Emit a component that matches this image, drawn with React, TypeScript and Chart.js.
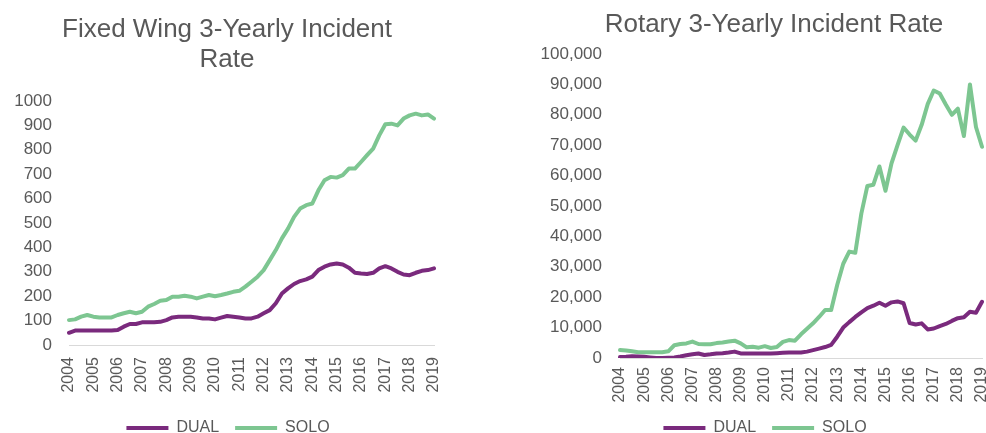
import React, { useEffect, useRef } from 'react';
import { Chart, registerables } from 'chart.js';

Chart.register(...registerables);

// ---- Data ----
const years = ['2004', '2005', '2006', '2007', '2008', '2009', '2010', '2011', '2012', '2013', '2014', '2015', '2016', '2017', '2018', '2019'];
const quarters = ['Q1', 'Q2', 'Q3', 'Q4'];
const seriesNames = ['DUAL', 'SOLO'];

// Quarterly values, 2004 Q1 .. 2019 Q1
const fixedDual = [
  50, 59, 59, 59,
  59, 59, 59, 59,
  61, 75, 86, 86,
  93, 93, 93, 95,
  102, 113, 116, 116,
  116, 113, 109, 109,
  105, 112, 119, 116,
  113, 109, 109, 116,
  130, 143, 171, 211,
  232, 250, 262, 269,
  280, 307, 321, 330,
  334, 330, 317, 296,
  293, 291, 296, 314,
  323, 314, 300, 289,
  286, 296, 304, 307,
  314,
];
const fixedSolo = [
  102, 105, 116, 123,
  116, 113, 113, 113,
  123, 130, 136, 130,
  136, 157, 168, 181,
  184, 198, 198, 202,
  198, 191, 198, 205,
  200, 205, 211, 218,
  222, 239, 259, 280,
  307, 348, 389, 437,
  477, 525, 559, 573,
  580, 634, 675, 689,
  686, 696, 723, 723,
  750, 778, 805, 859,
  905, 907, 900, 928,
  941, 948, 941, 945,
  928,
];
const rotaryDual = [
  300, 400, 600, 500,
  400, 200, 0, 0,
  100, 200, 500, 900,
  1200, 1500, 1000, 1200,
  1500, 1600, 1800, 2100,
  1500, 1500, 1500, 1500,
  1500, 1500, 1600, 1700,
  1800, 1800, 1800, 2100,
  2600, 3100, 3600, 4300,
  7000, 10000, 11800, 13500,
  15000, 16400, 17200, 18200,
  17200, 18300, 18600, 18000,
  11500, 11000, 11400, 9400,
  9700, 10500, 11200, 12200,
  13100, 13400, 15200, 14900,
  18500,
];
const rotarySolo = [
  2600, 2500, 2200, 1900,
  1900, 1900, 1900, 1900,
  2200, 4200, 4600, 4800,
  5400, 4600, 4500, 4500,
  4900, 5100, 5400, 5700,
  4800, 3500, 3700, 3400,
  3900, 3300, 3600, 5300,
  5900, 5700, 7800, 9600,
  11400, 13500, 15800, 15800,
  24000, 31000, 35000, 34600,
  47500, 56600, 57000, 63000,
  55000, 64000, 70000, 75800,
  73500, 71500, 76700, 83500,
  88000, 87000, 83400, 80000,
  82000, 73000, 90000, 76000,
  69500,
];

const categories: string[] = years.flatMap((y, i) =>
  i === years.length - 1 ? [`${y} ${quarters[0]}`] : quarters.map((q) => `${y} ${q}`)
);

// ---- Styles ----
const PURPLE = '#7a2a7d';
const GREEN = '#7dc691';
const TEXT = '#595959';
const AXIS = '#d9d9d9';
const FONT = "'Liberation Sans', Arial, sans-serif";

type Spec = {
  title: string[];
  dual: number[];
  solo: number[];
  yMax: number;
  yStep: number;
  comma: boolean;
  padR: number;
  yWidth: number;
  yPad: number;
  titleTop: number;
  titleBottom: number;
  xHeight: number;
  xPad: number;
  legendCenter: number;
  titleCenter: number;
};

// Moves the legend / title boxes horizontally so they are centred where the reference has them.
const centerBoxes = {
  id: 'centerBoxes',
  afterLayout(chart: any, _args: any, opts: any) {
    const shift = (box: any, c: number) => {
      if (!box || c == null) return;
      const dx = c - (box.left + box.right) / 2;
      box.left += dx;
      box.right += dx;
    };
    shift(chart.legend, opts.legendCenter);
    shift(chart.titleBlock, opts.titleCenter);
  },
};

function makeConfig(s: Spec): any {
  const ds = (label: string, data: number[], color: string) => ({
    label,
    data,
    borderColor: color,
    backgroundColor: color,
    borderWidth: 4,
    pointRadius: 0,
    pointHoverRadius: 0,
    pointStyle: 'line',
    tension: 0,
    borderJoinStyle: 'round',
    borderCapStyle: 'round',
  });
  return {
    type: 'line',
    data: {
      labels: categories,
      datasets: [ds(seriesNames[0], s.dual, PURPLE), ds(seriesNames[1], s.solo, GREEN)],
    },
    plugins: [centerBoxes],
    options: {
      animation: false,
      responsive: false,
      events: [],
      layout: { padding: { left: 0, right: s.padR, top: 0, bottom: 0 } },
      plugins: {
        centerBoxes: { legendCenter: s.legendCenter, titleCenter: s.titleCenter },
        title: {
          display: true,
          text: s.title,
          color: TEXT,
          font: { family: FONT, size: 26, weight: 'normal', lineHeight: 30 / 26 },
          padding: { top: s.titleTop, bottom: s.titleBottom },
        },
        legend: {
          display: true,
          position: 'bottom',
          labels: {
            usePointStyle: true,
            pointStyle: 'line',
            pointStyleWidth: 42,
            color: TEXT,
            font: { family: FONT, size: 16 },
            padding: 16,
          },
        },
        tooltip: { enabled: false },
      },
      scales: {
        x: {
          type: 'category',
          ticks: {
            autoSkip: false,
            maxRotation: 90,
            minRotation: 90,
            padding: s.xPad,
            color: TEXT,
            font: { family: FONT, size: 16 },
            callback: (_v: any, i: number) => (i % 4 === 0 ? years[i / 4] : ''),
          },
          grid: { display: false, drawTicks: false },
          border: { display: true, color: AXIS, width: 1 },
          afterFit: (sc: any) => {
            sc.height = s.xHeight;
            sc.paddingLeft = 0;
            sc.paddingRight = 0;
          },
        },
        y: {
          min: 0,
          max: s.yMax,
          ticks: {
            stepSize: s.yStep,
            padding: s.yPad,
            color: TEXT,
            font: { family: FONT, size: 17 },
            callback: (v: any) => (s.comma ? Number(v).toLocaleString('en-US') : String(v)),
          },
          grid: { display: false, drawTicks: false },
          border: { display: false },
          afterFit: (sc: any) => {
            sc.width = s.yWidth;
          },
        },
      },
    },
  };
}

function ChartCanvas({ spec, width, height, left }: { spec: Spec; width: number; height: number; left: number }) {
  const ref = useRef<HTMLCanvasElement | null>(null);
  useEffect(() => {
    if (!ref.current) return;
    const chart = new Chart(ref.current, makeConfig(spec));
    return () => chart.destroy();
  }, []);
  return (
    <canvas
      ref={ref}
      width={width}
      height={height}
      style={{ position: 'absolute', left, top: 0, width, height, display: 'block' }}
    />
  );
}

const fixedSpec: Spec = {
  title: ['Fixed Wing 3-Yearly Incident', 'Rate'],
  dual: fixedDual,
  solo: fixedSolo,
  yMax: 1000,
  yStep: 100,
  comma: false,
  padR: 12,
  yWidth: 69,
  yPad: 17,
  titleTop: 15,
  titleBottom: 26,
  xHeight: 59,
  xPad: 12,
  legendCenter: 228,
  titleCenter: 227,
};

const rotarySpec: Spec = {
  title: ['Rotary 3-Yearly Incident Rate'],
  dual: rotaryDual,
  solo: rotarySolo,
  yMax: 100000,
  yStep: 10000,
  comma: true,
  padR: 12,
  yWidth: 130,
  yPad: 18,
  titleTop: 10,
  titleBottom: 14,
  xHeight: 46,
  xPad: 9,
  legendCenter: 275,
  titleCenter: 284,
};

export default function App() {
  return (
    <div
      style={{
        position: 'fixed',
        left: 0,
        top: 0,
        width: 986,
        height: 433,
        overflow: 'hidden',
        background: '#ffffff',
      }}
    >
      <ChartCanvas spec={fixedSpec} width={446} height={446} left={0} />
      <ChartCanvas spec={rotarySpec} width={504} height={446} left={490} />
    </div>
  );
}
